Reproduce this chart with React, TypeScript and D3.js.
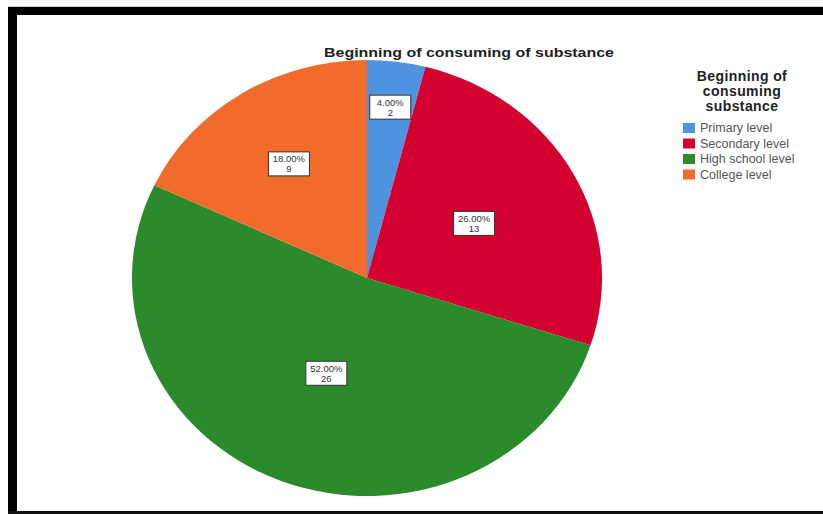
import React from "react";
import * as d3 from "d3";

const categories = ["Primary level", "Secondary level", "High school level", "College level"];
const counts = [2, 13, 26, 9];
const percents = ["4.00%", "26.00%", "52.00%", "18.00%"];
const colors = ["#4d93e0", "#d4002f", "#2b8a2b", "#f26b2b"];
const chartTitle = "Beginning of consuming of substance";
const legendTitle = ["Beginning of", "consuming", "substance"];

export default function App() {
  const W = 823, H = 514;
  const cx = 367, cy = 278, rx = 235, ry = 218;
  const pie = d3.pie<number>().value((d) => d).sort(null);
  const arcs = pie(counts);
  const arc = d3.arc<d3.PieArcDatum<number>>().innerRadius(0).outerRadius(rx);
  const labelFrac = [0.79, 0.52, 0.47, 0.62];
  const sy = ry / rx;

  return (
    <svg width={W} height={H} style={{ position: "absolute", left: 0, top: 0, background: "#fff" }}
      fontFamily="Liberation Sans, Arial, sans-serif">
      <rect x={0} y={0} width={W} height={H} fill="#fff" />
      <line x1={8} x2={823} y1={6.5} y2={6.5} stroke="#ccc" strokeWidth={1} />
      <rect x={8} y={7} width={815} height={8} fill="#000" />
      <rect x={8} y={7} width={9} height={507} fill="#000" />
      <rect x={8} y={511} width={815} height={3} fill="#111" />

      <text x={469} y={57} textAnchor="middle" fontWeight="bold" fontSize={13.5} fill="#222"
        textLength={290} lengthAdjust="spacingAndGlyphs">{chartTitle}</text>

      <g transform={`translate(${cx},${cy}) scale(1,${sy})`}>
        {arcs.map((a, i) => (
          <path key={i} d={arc(a) || ""} fill={colors[i]} />
        ))}
      </g>

      {arcs.map((a, i) => {
        const mid = (a.startAngle + a.endAngle) / 2;
        const lx = cx + Math.sin(mid) * rx * labelFrac[i];
        const ly = cy - Math.cos(mid) * ry * labelFrac[i];
        const bw = 41, bh = 24;
        return (
          <g key={i} transform={`translate(${lx},${ly})`}>
            <rect x={-bw / 2} y={-bh / 2} width={bw} height={bh} fill="#fff" stroke="#333" strokeWidth={1} />
            <text x={0} y={-1.5} textAnchor="middle" fontSize={9.5} fill="#333">{percents[i]}</text>
            <text x={0} y={8.5} textAnchor="middle" fontSize={9.5} fill="#333">{counts[i]}</text>
          </g>
        );
      })}

      {legendTitle.map((t, i) => (
        <text key={i} x={742} y={81 + i * 15} textAnchor="middle" fontWeight="bold" fontSize={14} fill="#222"
          letterSpacing={0.4}>{t}</text>
      ))}
      {categories.map((c, i) => (
        <g key={c} transform={`translate(683,${128 + i * 15.5})`}>
          <rect x={0} y={-5} width={12} height={10} fill={colors[i]} />
          <text x={17} y={4} fontSize={12.5} fill="#555">{c}</text>
        </g>
      ))}
    </svg>
  );
}
